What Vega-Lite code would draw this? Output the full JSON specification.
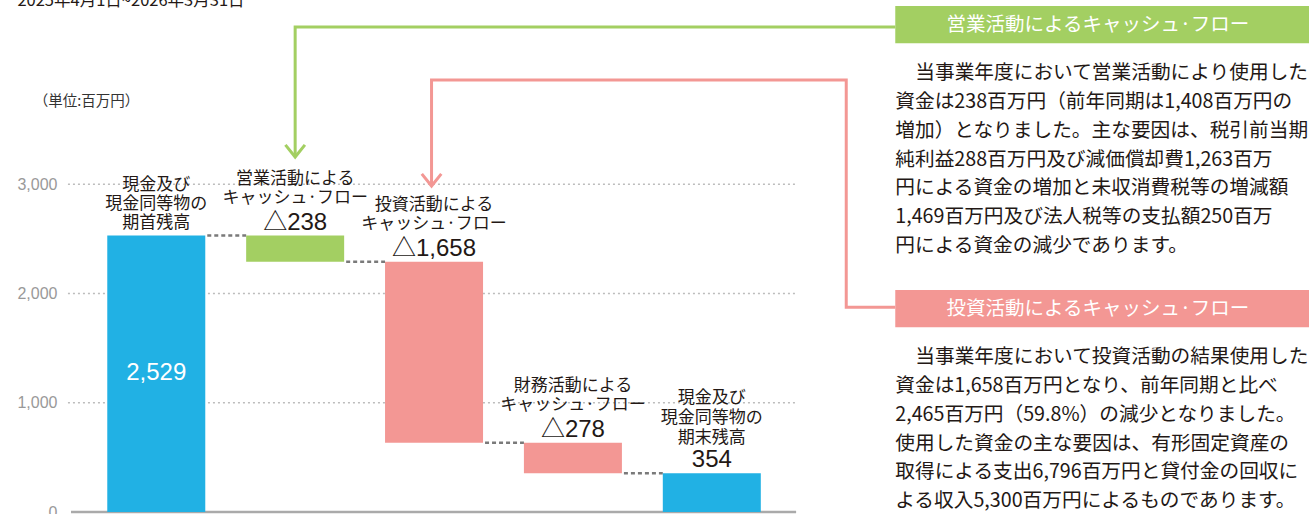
{
  "$schema": "https://vega.github.io/schema/vega-lite/v6.json",
  "width": 1253,
  "height": 512,
  "autosize": "none",
  "padding": {"left": 61, "top": 0, "right": 0, "bottom": 2},
  "config": {"view": {"stroke": null}, "text": {"font": "Noto Sans CJK JP"}},
  "datasets": {
    "bars": [
      {"slot": 1, "kind": "balance", "start": 0, "end": 2529, "top": 2529, "label": "現金及び\n現金同等物の\n期首残高", "value": "2,529", "pos": "inside"},
      {"slot": 2, "kind": "operating", "start": 2529, "end": 2291, "top": 2529, "label": "営業活動による\nキャッシュ·フロー", "value": "△238", "pos": "above"},
      {"slot": 3, "kind": "investing", "start": 2291, "end": 633, "top": 2291, "label": "投資活動による\nキャッシュ·フロー", "value": "△1,658", "pos": "above"},
      {"slot": 4, "kind": "financing", "start": 633, "end": 355, "top": 633, "label": "財務活動による\nキャッシュ·フロー", "value": "△278", "pos": "above"},
      {"slot": 5, "kind": "balance", "start": 0, "end": 354, "top": 354, "label": "現金及び\n現金同等物の\n期末残高", "value": "354", "pos": "above"}
    ],
    "links": [
      {"from": 1, "to": 2, "level": 2529},
      {"from": 2, "to": 3, "level": 2291},
      {"from": 3, "to": 4, "level": 633},
      {"from": 4, "to": 5, "level": 355}
    ],
    "grid": [{"v": 0}, {"v": 1000}, {"v": 2000}, {"v": 3000}],
    "arrows": [
      {"kind": "operating", "ord": 1, "x": 2.0, "y": 3248},
      {"kind": "operating", "ord": 2, "x": 2.0, "y": 4438},
      {"kind": "operating", "ord": 3, "x": 6.321, "y": 4438},
      {"kind": "investing", "ord": 1, "x": 2.982, "y": 2983},
      {"kind": "investing", "ord": 2, "x": 2.982, "y": 3953},
      {"kind": "investing", "ord": 3, "x": 5.968, "y": 3953},
      {"kind": "investing", "ord": 4, "x": 5.968, "y": 1874},
      {"kind": "investing", "ord": 5, "x": 6.321, "y": 1874}
    ],
    "panels": [
      {"kind": "operating", "top": 4630, "bottom": 4289, "title": "営業活動によるキャッシュ·フロー", "first": "当事業年度において営業活動により使用した", "rest": "資金は238百万円（前年同期は1,408百万円の\n増加）となりました。主な要因は、税引前当期\n純利益288百万円及び減価償却費1,263百万\n円による資金の増加と未収消費税等の増減額\n1,469百万円及び法人税等の支払額250百万\n円による資金の減少であります。"},
      {"kind": "investing", "top": 2031, "bottom": 1690, "title": "投資活動によるキャッシュ·フロー", "first": "当事業年度において投資活動の結果使用した", "rest": "資金は1,658百万円となり、前年同期と比べ\n2,465百万円（59.8%）の減少となりました。\n使用した資金の主な要因は、有形固定資産の\n取得による支出6,796百万円と貸付金の回収に\nよる収入5,300百万円によるものであります。"}
    ],
    "notes": [
      {"x": 0.0, "y": 4630, "text": "2025年4月1日~2026年3月31日", "type": "date"},
      {"x": 0.118, "y": 3752, "text": "（単位:百万円）", "type": "unit"}
    ]
  },
  "layer": [
    {
      "data": {"name": "grid"},
      "transform": [{"filter": "datum.v > 0"}],
      "mark": {"type": "rule", "color": "#bdbdbd", "strokeWidth": 1.5, "strokeDash": [2, 3]},
      "encoding": {
        "x": {"datum": 0.364, "type": "quantitative", "scale": {"domain": [0.35, 9.3], "nice": false, "zero": false}, "axis": null},
        "x2": {"datum": 5.607},
        "y": {"field": "v", "type": "quantitative", "scale": {"domain": [0, 4685], "nice": false, "zero": false},
              "axis": {"values": [0, 1000, 2000, 3000], "labelExpr": "format(datum.value, ',.0f')", "grid": false, "domain": false, "ticks": false, "labelPadding": 4, "labelColor": "#999999", "labelFontSize": 16, "labelFont": "Liberation Sans", "title": null}}
      }
    },
    {
      "data": {"name": "grid"},
      "transform": [{"filter": "datum.v == 0"}],
      "mark": {"type": "rule", "color": "#aaaaaa", "strokeWidth": 2.5},
      "encoding": {
        "x": {"datum": 0.386, "type": "quantitative"},
        "x2": {"datum": 5.607},
        "y": {"field": "v", "type": "quantitative"}
      }
    },
    {
      "data": {"name": "links"},
      "mark": {"type": "rule", "color": "#7a7a7a", "strokeWidth": 2.5, "strokeDash": [4, 3], "xOffset": 51, "x2Offset": -49},
      "encoding": {
        "x": {"field": "from", "type": "quantitative"},
        "x2": {"field": "to"},
        "y": {"field": "level", "type": "quantitative"}
      }
    },
    {
      "data": {"name": "arrows"},
      "mark": {"type": "line", "strokeWidth": 3, "strokeJoin": "miter"},
      "encoding": {
        "x": {"field": "x", "type": "quantitative"},
        "y": {"field": "y", "type": "quantitative"},
        "order": {"field": "ord", "type": "quantitative"},
        "color": {"field": "kind", "type": "nominal", "legend": null,
                  "scale": {"domain": ["balance", "operating", "investing", "financing"], "range": ["#21b1e4", "#a3cf62", "#f39794", "#f39794"]}}
      }
    },
    {
      "data": {"name": "arrows"},
      "transform": [{"filter": "datum.ord == 1"}],
      "mark": {"type": "point", "shape": "M-1,-1.25L0,0L1,-1.25", "filled": false, "strokeWidth": 3, "size": 380, "opacity": 1},
      "encoding": {
        "x": {"field": "x", "type": "quantitative"},
        "y": {"field": "y", "type": "quantitative"},
        "color": {"field": "kind", "type": "nominal", "legend": null}
      }
    },
    {
      "data": {"name": "bars"},
      "mark": {"type": "bar", "size": 98},
      "encoding": {
        "x": {"field": "slot", "type": "quantitative"},
        "y": {"field": "start", "type": "quantitative"},
        "y2": {"field": "end"},
        "color": {"field": "kind", "type": "nominal", "legend": null}
      }
    },
    {
      "data": {"name": "panels"},
      "mark": {"type": "rect"},
      "encoding": {
        "x": {"datum": 6.321, "type": "quantitative"},
        "x2": {"datum": 9.3},
        "y": {"field": "top", "type": "quantitative"},
        "y2": {"field": "bottom"},
        "color": {"field": "kind", "type": "nominal", "legend": null}
      }
    },
    {
      "data": {"name": "panels"},
      "mark": {"type": "text", "fontSize": 19.5, "color": "white", "align": "center", "baseline": "middle", "dy": 19},
      "encoding": {
        "x": {"datum": 7.78, "type": "quantitative"},
        "y": {"field": "top", "type": "quantitative"},
        "text": {"field": "title"}
      }
    },
    {
      "data": {"name": "panels"},
      "mark": {"type": "text", "fontSize": 19.7, "color": "#231815", "align": "left", "baseline": "top", "dy": 20, "dx": 20},
      "encoding": {
        "x": {"datum": 6.321, "type": "quantitative"},
        "y": {"field": "bottom", "type": "quantitative"},
        "text": {"field": "first"}
      }
    },
    {
      "data": {"name": "panels"},
      "mark": {"type": "text", "fontSize": 19.7, "color": "#231815", "align": "left", "baseline": "top", "dy": 48.8, "lineBreak": "\n", "lineHeight": 28.8},
      "encoding": {
        "x": {"datum": 6.321, "type": "quantitative"},
        "y": {"field": "bottom", "type": "quantitative"},
        "text": {"field": "rest"}
      }
    },
    {
      "data": {"name": "bars"},
      "transform": [{"filter": "datum.slot >= 2 && datum.slot <= 4"}],
      "mark": {"type": "text", "fontSize": 17, "color": "#231815", "align": "center", "baseline": "alphabetic", "dy": -52, "lineBreak": "\n", "lineHeight": 19},
      "encoding": {
        "x": {"field": "slot", "type": "quantitative"},
        "y": {"field": "top", "type": "quantitative"},
        "text": {"field": "label"}
      }
    },
    {
      "data": {"name": "bars"},
      "transform": [{"filter": "datum.slot == 5"}],
      "mark": {"type": "text", "fontSize": 17, "color": "#231815", "align": "center", "baseline": "alphabetic", "dy": -70, "lineBreak": "\n", "lineHeight": 20},
      "encoding": {
        "x": {"field": "slot", "type": "quantitative"},
        "y": {"field": "top", "type": "quantitative"},
        "text": {"field": "label"}
      }
    },
    {
      "data": {"name": "bars"},
      "transform": [{"filter": "datum.slot == 1"}],
      "mark": {"type": "text", "fontSize": 17, "color": "#231815", "align": "center", "baseline": "alphabetic", "dy": -46, "lineBreak": "\n", "lineHeight": 19},
      "encoding": {
        "x": {"field": "slot", "type": "quantitative"},
        "y": {"field": "top", "type": "quantitative"},
        "text": {"field": "label"}
      }
    },
    {
      "data": {"name": "bars"},
      "transform": [{"filter": "datum.pos == 'above'"}],
      "mark": {"type": "text", "fontSize": 24, "font": "Liberation Sans, Noto Sans CJK JP", "color": "#231815", "align": "center", "baseline": "alphabetic", "dy": -6},
      "encoding": {
        "x": {"field": "slot", "type": "quantitative"},
        "y": {"field": "top", "type": "quantitative"},
        "text": {"field": "value"}
      }
    },
    {
      "data": {"name": "bars"},
      "transform": [{"filter": "datum.pos == 'inside'"}],
      "mark": {"type": "text", "fontSize": 24, "font": "Liberation Sans", "color": "white", "align": "center", "baseline": "middle", "dy": 137},
      "encoding": {
        "x": {"field": "slot", "type": "quantitative"},
        "y": {"field": "top", "type": "quantitative"},
        "text": {"field": "value"}
      }
    },
    {
      "data": {"name": "notes"},
      "transform": [{"filter": "datum.type == 'date'"}],
      "mark": {"type": "text", "fontSize": 16.5, "color": "#231815", "align": "left", "baseline": "alphabetic"},
      "encoding": {
        "x": {"field": "x", "type": "quantitative"},
        "y": {"field": "y", "type": "quantitative"},
        "text": {"field": "text"}
      }
    },
    {
      "data": {"name": "notes"},
      "transform": [{"filter": "datum.type == 'unit'"}],
      "mark": {"type": "text", "fontSize": 14.5, "color": "#333333", "align": "left", "baseline": "middle"},
      "encoding": {
        "x": {"field": "x", "type": "quantitative"},
        "y": {"field": "y", "type": "quantitative"},
        "text": {"field": "text"}
      }
    }
  ]
}
